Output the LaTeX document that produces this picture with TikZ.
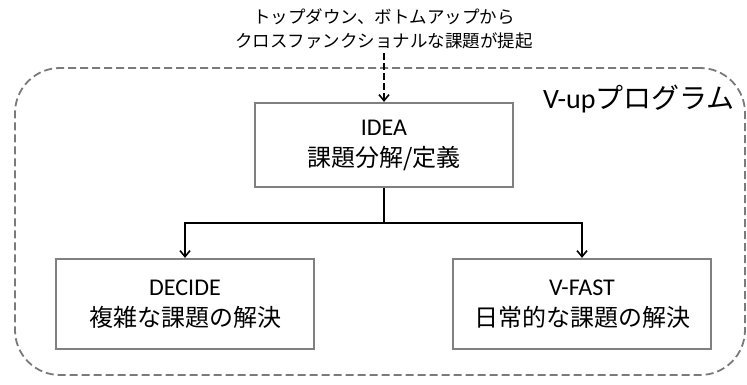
\documentclass[tikz,border=0pt]{standalone}
\usepackage{fontspec}
\setmainfont{Carlito}
\newfontfamily\jp{Noto Sans CJK JP}
\usetikzlibrary{arrows.meta}
\definecolor{boxgray}{HTML}{808080}
\definecolor{framegray}{HTML}{7A7A7A}
\tikzset{
  procbox/.style={draw=boxgray, line width=2.2pt, fill=white, minimum width=258pt, align=center, inner sep=0pt,
    font=\fontsize{24}{31}\selectfont},
  conn/.style={line width=1.8pt, black, -{Straight Barb[length=6pt,width=10pt,line width=1.6pt]}},
  frame/.style={draw=framegray, line width=1.8pt, dash pattern=on 8pt off 4pt, rounded corners=45pt,
    minimum width=730pt, minimum height=307pt, inner sep=0pt},
}
\begin{document}
\begin{tikzpicture}[x=1pt,y=-1pt]
\useasboundingbox (0,0) rectangle (747,385);
\node[frame] (program) at (380,221.5) {};
\node[font=\fontsize{28}{30}\selectfont, anchor=center] (plabel) at (639,99) {V-up{\jp プログラム}};
\node[font=\fontsize{17.5}{24}\selectfont\jp, align=center, inner sep=0pt] (src) at (384,29) {トップダウン、ボトムアップから\\クロスファンクショナルな課題が提起};
\node[procbox, minimum height=84pt] (idea) at (384,145) {IDEA\\{\jp 課題分解/定義}};
\node[procbox, minimum height=90pt] (decide) at (185,304) {DECIDE\\{\jp 複雑な課題の解決}};
\node[procbox, minimum height=90pt] (vfast) at (582,304) {V-FAST\\{\jp 日常的な課題の解決}};
\coordinate (split) at (384,223);
\draw[conn, dash pattern=on 7pt off 3pt] ([yshift=-4pt]src.south) -- (idea.north);
\draw[line width=1.8pt] (idea.south) -- (split);
\draw[conn] (split) -| (decide.north);
\draw[conn] (split) -| (vfast.north);
\end{tikzpicture}
\end{document}
